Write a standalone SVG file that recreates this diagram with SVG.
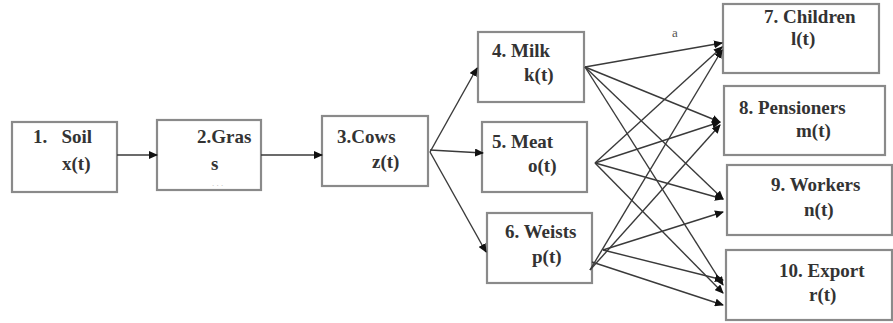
<svg xmlns="http://www.w3.org/2000/svg" width="893" height="323" viewBox="0 0 893 323">
<defs>
<marker id="ah" markerWidth="9" markerHeight="8" refX="8" refY="4" orient="auto" markerUnits="userSpaceOnUse">
<path d="M0,0 L9,4 L0,8 Z" fill="#111"/>
</marker>
<style>
.box{fill:#fff;stroke:#8a8a8a;stroke-width:2.2}
.e{fill:none;stroke:#3a3a3a;stroke-width:1.4;marker-end:url(#ah)}
text{font-family:"Times New Roman","Liberation Serif","DejaVu Serif",serif;font-weight:bold;font-size:19px;fill:#333}
</style>
</defs>
<rect width="893" height="323" fill="#fff"/>
<g id="n1"><rect class="box" x="12" y="122" width="105" height="70"/><text x="33" y="143" xml:space="preserve">1.   Soil</text><text x="62" y="170">x(t)</text></g>
<g id="n2"><rect class="box" x="157" y="120" width="104" height="70"/><text x="197" y="143">2.Gras</text><text x="211" y="170">s</text><text x="212" y="186" style="font-weight:normal;font-size:9px;fill:#bbb">. . .</text></g>
<g id="n3"><rect class="box" x="322" y="116" width="106" height="70"/><text x="337" y="143">3.Cows</text><text x="372" y="168">z(t)</text></g>
<g id="n4"><rect class="box" x="478" y="32" width="106" height="70"/><text x="492" y="57">4. Milk</text><text x="524" y="81">k(t)</text></g>
<g id="n5"><rect class="box" x="482" y="122" width="105" height="70"/><text x="492" y="148">5. Meat</text><text x="528" y="172">o(t)</text></g>
<g id="n6"><rect class="box" x="487" y="213" width="105" height="70"/><text x="505" y="238">6. Weists</text><text x="532" y="263">p(t)</text></g>
<g id="n7"><rect class="box" x="723" y="4" width="156" height="69"/><text x="764" y="23">7. Children</text><text x="791" y="45">l(t)</text></g>
<g id="n8"><rect class="box" x="724" y="86" width="161" height="69"/><text x="739" y="114">8. Pensioners</text><text x="796" y="137">m(t)</text></g>
<g id="n9"><rect class="box" x="727" y="165" width="165" height="70"/><text x="771" y="191">9. Workers</text><text x="804" y="216">n(t)</text></g>
<g id="n10"><rect class="box" x="726" y="250" width="166" height="70"/><text x="779" y="277">10. Export</text><text x="809" y="301">r(t)</text></g>
<g id="connectors">
<line class="e" x1="117" y1="155" x2="157" y2="155"/>
<line class="e" x1="261" y1="155" x2="322" y2="155"/>
<line class="e" x1="430" y1="152" x2="477" y2="68"/>
<line class="e" x1="430" y1="150" x2="483" y2="153"/>
<line class="e" x1="430" y1="152" x2="486" y2="252"/>
<line class="e" x1="585" y1="67" x2="722" y2="43"/>
<line class="e" x1="585" y1="67" x2="720" y2="122"/>
<line class="e" x1="585" y1="67" x2="723" y2="199"/>
<line class="e" x1="585" y1="67" x2="723" y2="285"/>
<line class="e" x1="595" y1="163" x2="722" y2="47"/>
<line class="e" x1="595" y1="163" x2="720" y2="122"/>
<line class="e" x1="595" y1="163" x2="723" y2="199"/>
<line class="e" x1="595" y1="163" x2="723" y2="293"/>
<line class="e" x1="590" y1="270" x2="722" y2="50"/>
<line class="e" x1="590" y1="270" x2="720" y2="125"/>
<line class="e" x1="603" y1="250" x2="723" y2="212"/>
<line class="e" x1="603" y1="250" x2="723" y2="280"/>
<line class="e" x1="592" y1="262" x2="723" y2="305"/>
<text x="672" y="37" style="font-weight:normal;font-size:13px;fill:#555">a</text>
</g>
</svg>
